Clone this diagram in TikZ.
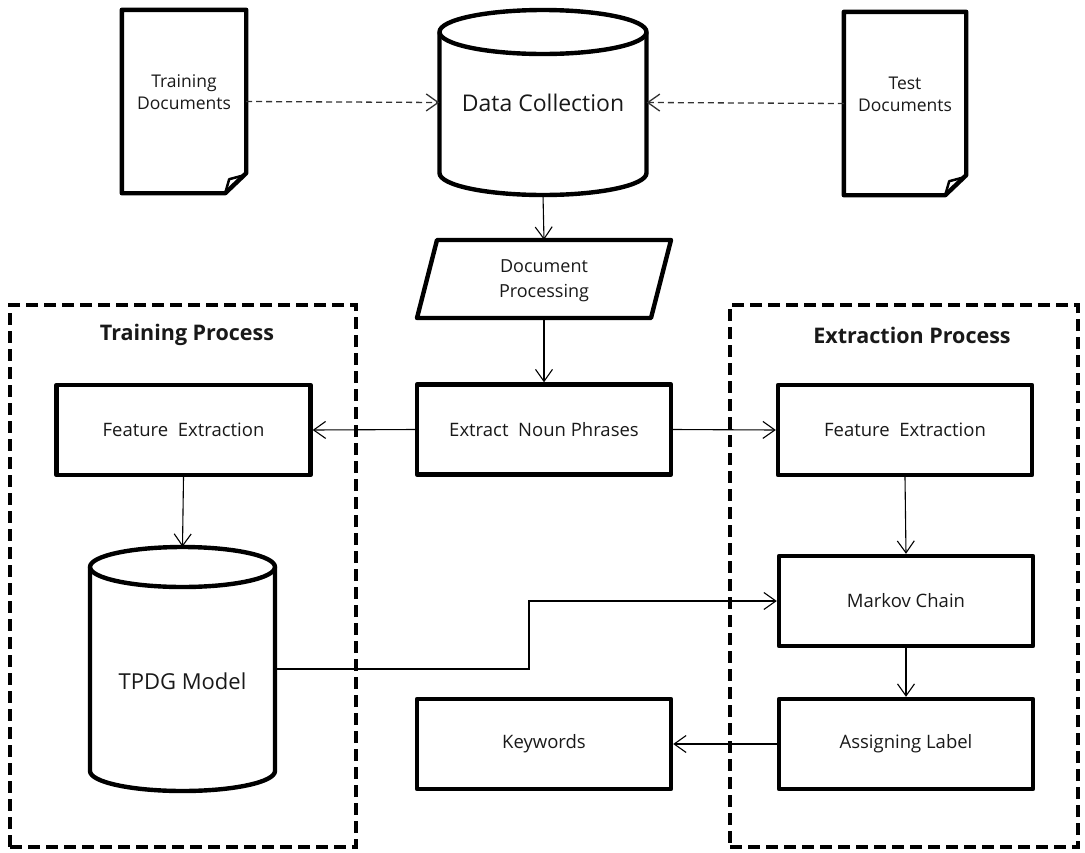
\documentclass[tikz,border=0pt]{standalone}
\usepackage{fontspec}
\setmainfont{Open Sans}
\usetikzlibrary{arrows.meta}

\begin{document}
\begin{tikzpicture}[x=1pt,y=-1pt,
  every node/.style={text=black!90, inner sep=0pt, align=center},
  outline/.style={draw=black, line width=4.4pt, line join=round},
  stepbox/.style={outline, minimum width=254pt, minimum height=90pt, font=\fontsize{18.5}{22}\selectfont},
  region/.style={draw=black, line width=4pt, dash pattern=on 12pt off 6pt, minimum width=346pt, minimum height=542pt},
  title/.style={font=\bfseries\fontsize{21.5}{25}\selectfont},
  flow/.style={draw=black, line width=1.1pt, -{Straight Barb[length=12pt,width=17pt]}},
  feed/.style={draw=black!80, line width=1.3pt, dash pattern=on 6pt off 4pt, -{Straight Barb[length=12pt,width=17pt]}},
]
\useasboundingbox (0,0) rectangle (1085,852);

% dashed process regions
\node[region] (trainreg) at (183,576) {};
\node[region, minimum width=348pt] (extreg) at (904,576) {};
\node[title] (traintitle) at (187,335) {Training Process};
\node[title] (extrtitle) at (912,335) {Extraction Process};

% input documents (page with folded corner)
\node[minimum width=124pt, minimum height=183pt] (traindoc) at (184,101.5) {};
\node[font=\fontsize{17.5}{22}\selectfont] (traindoctext) at ([yshift=9pt]traindoc.center) {Training\\Documents};
\draw[outline] (traindoc.north west) -- (traindoc.north east) -- ([yshift=20pt]traindoc.south east)
  -- ([xshift=-21pt]traindoc.south east) -- (traindoc.south west) -- cycle;
\draw[outline, line width=2.5pt] ([xshift=-21pt]traindoc.south east) -- ++(4,-14) -- ([xshift=-2pt,yshift=18pt]traindoc.south east);

\node[minimum width=122pt, minimum height=183pt] (testdoc) at (905,103.5) {};
\node[font=\fontsize{17.5}{22}\selectfont] (testdoctext) at ([yshift=9pt]testdoc.center) {Test\\Documents};
\draw[outline] (testdoc.north west) -- (testdoc.north east) -- ([yshift=20pt]testdoc.south east)
  -- ([xshift=-21pt]testdoc.south east) -- (testdoc.south west) -- cycle;
\draw[outline, line width=2.5pt] ([xshift=-21pt]testdoc.south east) -- ++(4,-14) -- ([xshift=-2pt,yshift=18pt]testdoc.south east);

% data collection store
\node[minimum width=207pt, minimum height=185pt, font=\fontsize{23}{27}\selectfont] (datacoll) at (543,102.5) {\raisebox{-6pt}{Data Collection}};
\draw[outline] (439.5,32) -- (439.5,173) arc[start angle=180, end angle=0, x radius=103.5, y radius=22]
  -- (646.5,32) arc[start angle=0, end angle=-180, x radius=103.5, y radius=22] -- cycle;
\draw[outline] (439.5,32) arc[start angle=180, end angle=0, x radius=103.5, y radius=22];

% document processing (parallelogram)
\node[minimum width=234pt, minimum height=78pt] (docproc) at (544,279) {};
\node[font=\fontsize{18}{25}\selectfont] (docproctext) at (544,281) {Document\\Processing};
\draw[outline] (437,240) -- (671,240) -- (651,318) -- (417,318) -- cycle;

% processing steps
\node[stepbox] (nouns) at (544,429.5) {Extract\ \ Noun Phrases};
\node[stepbox] (featl) at (183.5,430) {Feature\ \ Extraction};
\node[stepbox] (featr) at (905,430) {Feature\ \ Extraction};
\node[stepbox] (markov) at (906,601) {Markov Chain};
\node[stepbox] (assign) at (906,744) {Assigning Label};
\node[stepbox] (keys) at (544,744) {Keywords};

% TPDG model store
\node[minimum width=185pt, minimum height=244pt] (tpdg) at (182.5,669) {};
\node[font=\fontsize{22}{26}\selectfont] (tpdgtext) at ([yshift=-12pt]tpdg.center) {TPDG Model};
\draw[outline] (90,567) -- (90,771) arc[start angle=180, end angle=0, x radius=92.5, y radius=20]
  -- (275,567) arc[start angle=0, end angle=-180, x radius=92.5, y radius=20] -- cycle;
\draw[outline] (90,567) arc[start angle=180, end angle=0, x radius=92.5, y radius=20];

% connectors
\draw[feed] (traindoc.east) -- (datacoll.west);
\draw[feed] (testdoc.west) -- (datacoll.east);
\draw[flow] (datacoll.south) -- (docproc.north);
\draw[flow] (docproc.south) -- (nouns.north);
\draw[flow] (nouns.west) -- (featl.east);
\draw[flow] (nouns.east) -- (featr.west);
\draw[flow] (featl.south) -- (tpdg.north);
\draw[flow] (featr.south) -- (markov.north);
\coordinate (bend) at (529,669);
\draw[flow] (tpdg.east) -- (bend) |- (markov.west);
\draw[flow] (markov.south) -- (assign.north);
\draw[flow] (assign.west) -- (keys.east);
\end{tikzpicture}
\end{document}
